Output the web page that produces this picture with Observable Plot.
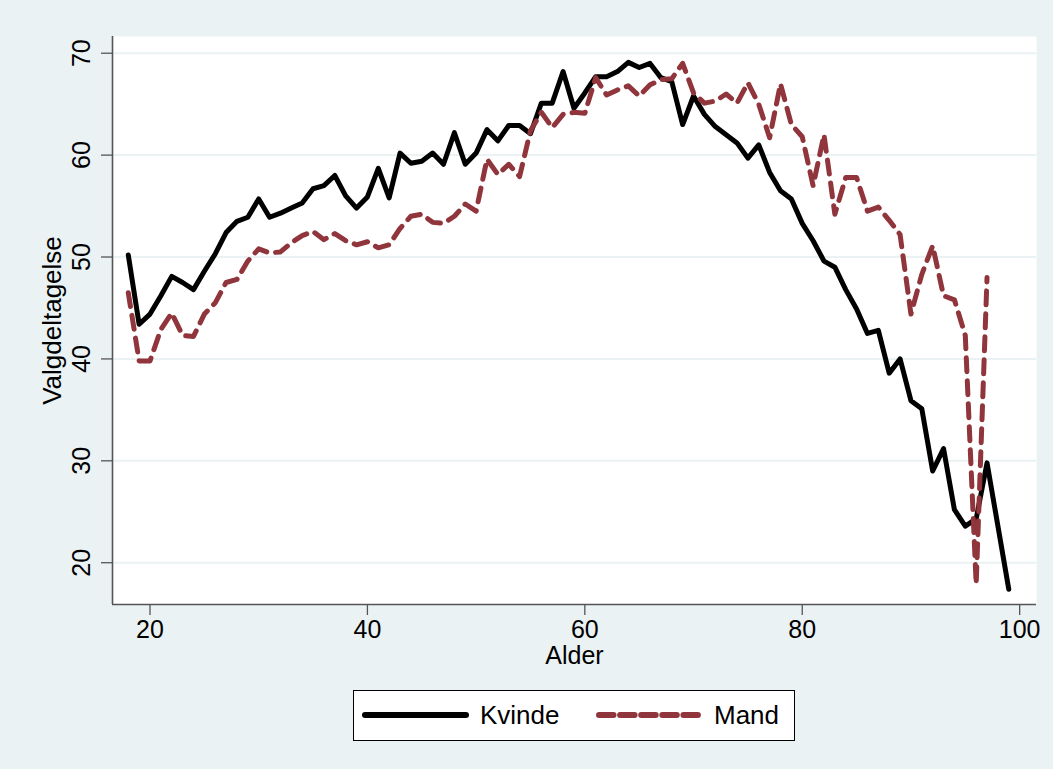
<!DOCTYPE html>
<html>
<head>
<meta charset="utf-8">
<script src="https://cdn.jsdelivr.net/npm/d3@7"></script>
<script src="https://cdn.jsdelivr.net/npm/@observablehq/plot@0.6"></script>
<style>
  html, body { margin: 0; padding: 0; background: #EAF2F3; }
  body { width: 1053px; height: 769px; position: relative; overflow: hidden; font-family: "Liberation Sans", Arial, sans-serif; }
  #legend { position: absolute; left: 353px; top: 690px; width: 442px; height: 51px; box-sizing: border-box;
            border: 1.3px solid #000; background: #fff; }
  #legend .item { position: absolute; top: 0; height: 49px; display: flex; align-items: center; font-size: 26px; color: #000; }
</style>
</head>
<body>
<div id="chart"></div>
<div id="legend"></div>
<script>
const seriesNames = ["Kvinde", "Mand"];
const kvindeAge = [18,19,20,21,22,23,24,25,26,27,28,29,30,31,32,33,34,35,36,37,38,39,40,41,42,43,44,45,46,47,48,49,50,51,52,53,54,55,56,57,58,59,60,61,62,63,64,65,66,67,68,69,70,71,72,73,74,75,76,77,78,79,80,81,82,83,84,85,86,87,88,89,90,91,92,93,94,95,96,97,99];
const kvindeValue = [50.2,43.4,44.4,46.2,48.1,47.5,46.8,48.6,50.3,52.4,53.5,53.9,55.7,53.9,54.3,54.8,55.3,56.7,57.0,58.0,56.0,54.8,55.9,58.7,55.8,60.2,59.2,59.4,60.2,59.1,62.2,59.1,60.2,62.5,61.4,62.9,62.9,62.1,65.1,65.1,68.2,64.6,66.1,67.7,67.7,68.2,69.1,68.6,69.0,67.6,67.2,63.0,65.8,64.0,62.8,62.0,61.2,59.7,61.0,58.3,56.5,55.7,53.3,51.6,49.6,49.0,46.8,44.9,42.5,42.8,38.6,40.0,35.9,35.1,29.0,31.2,25.2,23.6,24.3,29.8,17.4];
const mandAge = [18,19,20,21,22,23,24,25,26,27,28,29,30,31,32,33,34,35,36,37,38,39,40,41,42,43,44,45,46,47,48,49,50,51,52,53,54,55,56,57,58,59,60,61,62,63,64,65,66,67,68,69,70,71,72,73,74,75,76,77,78,79,80,81,82,83,84,85,86,87,88,89,90,91,92,93,94,95,96,97];
const mandValue = [46.5,39.8,39.8,42.9,44.5,42.3,42.2,44.4,45.5,47.5,47.8,49.6,50.8,50.4,50.5,51.4,52.1,52.5,51.7,52.3,51.6,51.2,51.5,50.9,51.2,52.8,54.0,54.2,53.4,53.3,54.0,55.2,54.5,59.6,58.1,59.1,57.9,62.4,64.2,62.7,64.0,64.2,64.1,67.6,65.9,66.4,66.8,65.8,66.9,67.4,67.5,69.0,66.1,65.1,65.3,66.0,65.1,67.1,65.0,61.7,67.0,63.0,61.8,57.0,62.0,54.2,57.8,57.8,54.5,54.9,53.6,52.2,44.4,48.3,51.1,46.2,45.8,42.3,17.9,48.0];
const xTicks = [20, 40, 60, 80, 100];
const yTicks = [20, 30, 40, 50, 60, 70];
const xLabel = "Alder";
const yLabel = "Valgdeltagelse";

const colors = { Kvinde: "#000000", Mand: "#90353B" };
const bg = "#EAF2F3";
const axisColor = "#555555";
const font = "'Liberation Sans', Arial, sans-serif";
const fs = 25;

const kvinde = kvindeAge.map((a, i) => ({ age: a, value: kvindeValue[i], series: seriesNames[0] }));
const mand = mandAge.map((a, i) => ({ age: a, value: mandValue[i], series: seriesNames[1] }));

const xDomain = [16.55, 101.55];
const yDomain = [15.9, 71.64];

const chart = Plot.plot({
  width: 1053,
  height: 680,
  marginLeft: 112,
  marginRight: 17,
  marginTop: 36,
  marginBottom: 76,
  style: { background: bg, fontFamily: font, overflow: "visible" },
  x: { domain: xDomain },
  y: { domain: yDomain },
  marks: [
    Plot.frame({ fill: "white", stroke: null }),
    Plot.gridY(yTicks, { stroke: bg, strokeOpacity: 1, strokeWidth: 2 }),
    Plot.axisX({ ticks: xTicks, tickSize: 11, tickFormat: () => "", stroke: axisColor, strokeWidth: 1.3, label: null }),
    Plot.axisY({ ticks: yTicks, tickSize: 11, tickFormat: () => "", stroke: axisColor, strokeWidth: 1.3, label: null }),
    Plot.text(xTicks, { x: d => d, frameAnchor: "bottom", dy: 33, text: d => String(d), fontSize: fs, fill: "black", textAnchor: "middle" }),
    Plot.text(yTicks, { y: d => d, frameAnchor: "left", dx: -31, rotate: -90, text: d => String(d), fontSize: fs, fill: "black", textAnchor: "middle" }),
    Plot.text([xLabel], { frameAnchor: "bottom", dy: 59, text: d => d, fontSize: fs, fill: "black", textAnchor: "middle" }),
    Plot.text([yLabel], { frameAnchor: "left", dx: -60, rotate: -90, text: d => d, fontSize: 26, fill: "black", textAnchor: "middle" }),
    Plot.ruleX([xDomain[0]], { stroke: axisColor, strokeWidth: 1.6 }),
    Plot.ruleY([yDomain[0]], { stroke: axisColor, strokeWidth: 1.6 }),
    Plot.line(kvinde, { x: "age", y: "value", stroke: colors.Kvinde, strokeWidth: 5, strokeLinejoin: "round" }),
    Plot.line(mand, { x: "age", y: "value", stroke: colors.Mand, strokeWidth: 5, strokeDasharray: "14,9", strokeLinecap: "round", strokeLinejoin: "round" })
  ]
});
document.getElementById("chart").appendChild(chart);

// Legend
const legend = document.getElementById("legend");
function addItem(left, name, dash) {
  const sw = document.createElementNS("http://www.w3.org/2000/svg", "svg");
  sw.setAttribute("width", 108); sw.setAttribute("height", 49);
  sw.style.position = "absolute"; sw.style.left = left + "px"; sw.style.top = "0px";
  const ln = document.createElementNS("http://www.w3.org/2000/svg", "line");
  ln.setAttribute("x1", 3); ln.setAttribute("x2", 104); ln.setAttribute("y1", 24); ln.setAttribute("y2", 24);
  ln.setAttribute("stroke", colors[name]); ln.setAttribute("stroke-width", 6); ln.setAttribute("stroke-linecap", "round");
  if (dash) ln.setAttribute("stroke-dasharray", dash);
  sw.appendChild(ln);
  legend.appendChild(sw);
  const t = document.createElement("div");
  t.className = "item"; t.style.left = (left + 118) + "px"; t.textContent = name;
  legend.appendChild(t);
}
addItem(8, seriesNames[0], null);
addItem(242, seriesNames[1], "14.5,6.6");
</script>
</body>
</html>
